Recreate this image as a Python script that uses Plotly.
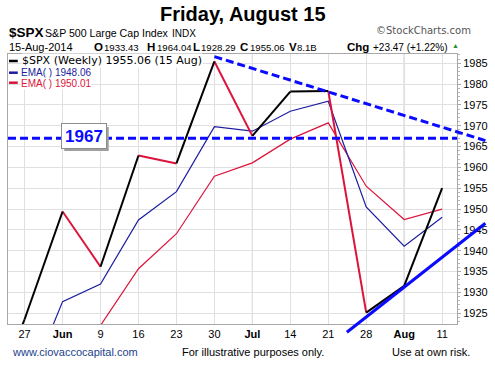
import plotly.graph_objects as go

# ---------------- data ----------------
week_idx = [-1, 0, 1, 2, 3, 4, 5, 6, 7, 8, 9, 10, 11]
tick_labels = ['27', 'Jun', '9', '16', '23', '30', 'Jul', '14', '21', '28', 'Aug', '11']
month_labels = ['Jun', 'Jul', 'Aug']
dark_grid_months = ['Jul', 'Aug']
price_close = [1900.53, 1923.57, 1949.44, 1936.16, 1962.87, 1960.96, 1985.44,
               1967.57, 1978.22, 1978.34, 1925.15, 1931.59, 1955.06]
ema_fast_idx = [0, 1, 2, 3, 4, 5, 6, 7, 8, 9, 10, 11]
ema_fast = [1905.5, 1927.8, 1932.0, 1947.4, 1954.2, 1969.8, 1968.7, 1973.5,
            1975.9, 1950.5, 1941.1, 1948.06]
ema_slow_idx = [1, 2, 3, 4, 5, 6, 7, 8, 9, 10, 11]
ema_slow = [1915.0, 1922.1, 1935.7, 1944.1, 1957.9, 1961.1, 1966.8, 1970.7,
            1955.5, 1947.5, 1950.01]
y_ticks = [1925, 1930, 1935, 1940, 1945, 1950, 1955, 1960, 1965, 1970, 1975, 1980, 1985]
level_1967 = 1967
down_trend = [(5.0, 1986.6), (12.14, 1966.45)]
up_trend = [(8.49, 1920.44), (12.14, 1946.6)]

# ---------------- geometry ----------------
W, H = 495, 366
ML, MR, MT, MB = 7, 29, 54, 42
XR = [-0.438, 11.392]
YR = [1922.43, 1987.23]
PW, PH = W - ML - MR, H - MT - MB


def PX(px):
    return (px - ML) / PW


def PY(py):
    return (H - MB - py) / PH


def dx(i):
    return (i - XR[0]) / (XR[1] - XR[0])


def dy(v):
    return (v - YR[0]) / (YR[1] - YR[0])


FONT = "Liberation Sans, Arial, sans-serif"
BLACK = "#000000"
RED = "#dc143c"
NAVY = "#1c1ca0"
BLUE = "#0a0aff"

fig = go.Figure()

# EMA lines
fig.add_trace(go.Scatter(x=ema_slow_idx, y=ema_slow, mode="lines",
                         line=dict(color=RED, width=1.2), hoverinfo="skip"))
fig.add_trace(go.Scatter(x=ema_fast_idx, y=ema_fast, mode="lines",
                         line=dict(color=NAVY, width=1.2), hoverinfo="skip"))

# price line: black up, red down
xb, yb, xr, yr = [], [], [], []
for k in range(len(price_close) - 1):
    seg_x = [week_idx[k], week_idx[k + 1], None]
    seg_y = [price_close[k], price_close[k + 1], None]
    if price_close[k + 1] >= price_close[k]:
        xb += seg_x
        yb += seg_y
    else:
        xr += seg_x
        yr += seg_y
fig.add_trace(go.Scatter(x=xr, y=yr, mode="lines", line=dict(color=RED, width=2),
                         hoverinfo="skip"))
fig.add_trace(go.Scatter(x=xb, y=yb, mode="lines", line=dict(color=BLACK, width=2),
                         hoverinfo="skip"))

shapes = []
# darker month gridlines
for lab in dark_grid_months:
    i = tick_labels.index(lab)
    shapes.append(dict(type="line", xref="x", yref="paper", x0=i, x1=i, y0=0, y1=1,
                       line=dict(color="#bdbdbd", width=1), layer="below"))
# 1967 horizontal dashed line
shapes.append(dict(type="line", xref="paper", yref="y", x0=0, x1=1,
                   y0=level_1967, y1=level_1967,
                   line=dict(color=BLUE, width=3, dash="8px,4px")))
# down trend dashed
shapes.append(dict(type="line", xref="paper", yref="paper",
                   x0=dx(down_trend[0][0]), y0=dy(down_trend[0][1]),
                   x1=dx(down_trend[1][0]), y1=dy(down_trend[1][1]),
                   line=dict(color=BLUE, width=3, dash="8px,4px")))
# up trend solid
shapes.append(dict(type="line", xref="paper", yref="paper",
                   x0=dx(up_trend[0][0]), y0=dy(up_trend[0][1]),
                   x1=dx(up_trend[1][0]), y1=dy(up_trend[1][1]),
                   line=dict(color=BLUE, width=3)))
# legend dashes
for py, col in [(61, BLACK), (72.7, NAVY), (82.7, RED)]:
    shapes.append(dict(type="line", xref="paper", yref="paper",
                       x0=PX(8), x1=PX(17), y0=PY(py), y1=PY(py),
                       line=dict(color=col, width=2.5)))
# shadow of the 1967 box
shapes.append(dict(type="rect", xref="paper", yref="paper",
                   x0=PX(64.5), x1=PX(110), y0=PY(151), y1=PY(127),
                   fillcolor="#a0a0a0", line=dict(width=0)))

ann = []


def txt(px, py, text, size=11, color="#000", family=FONT, xanchor="left", **kw):
    d = dict(xref="paper", yref="paper", x=PX(px), y=PY(py), text=text,
             showarrow=False, xanchor=xanchor, yanchor="middle",
             font=dict(size=size, color=color, family=family))
    d.update(kw)
    ann.append(d)


# title
txt(247, 14, "<b>Friday, August 15</b>", size=20, xanchor="center")
# header line 1
txt(6, 32.5, "<b>$SPX</b>", size=13.5)
txt(43, 33, "S&P 500 Large Cap Index", size=10.6)
txt(173, 33, "INDX", size=10)
txt(381, 31, "\u00a9StockCharts.com", size=10, color="#555", family="DejaVu Sans")
# header line 2
txt(6, 47, "15-Aug-2014", size=11)
pairs = [(93, 103.5, "O", "1933.43"), (147.5, 157, "H", "1964.04"),
         (194, 202, "L", "1928.29"), (242, 252, "C", "1955.06"),
         (292, 300, "V", "8.1B"), (352, 378, "Chg", "+23.47 (+1.22%)")]
for lx, nx, lab, val in pairs:
    txt(lx, 46.5, "<b>" + lab + "</b>", size=11.5)
    txt(nx, 47, val, size=10 if lab == "Chg" else 9.6)
txt(459, 46, "\u25b2", size=7, color="#2e8b2e")
# legend text
txt(20, 61, "$SPX (Weekly) 1955.06 (15 Aug)", size=11, family="DejaVu Sans",
    bgcolor="white", borderpad=0)
txt(19, 72.7, "EMA( ) 1948.06", size=10, color=NAVY, bgcolor="white", borderpad=0)
txt(19, 83, "EMA( ) 1950.01", size=10, color=RED, bgcolor="white", borderpad=0)
# 1967 box
ann.append(dict(xref="paper", yref="paper", x=PX(84.4), y=PY(136),
                text="<b>1967</b>", showarrow=False, xanchor="center",
                yanchor="middle", width=40, height=20,
                font=dict(size=17, family=FONT, color=BLUE),
                bgcolor="white", bordercolor="#8c8c8c", borderwidth=1, borderpad=2))
# footer
txt(9, 351.5, "www.ciovaccocapital.com", size=11, color="#1c3f8c")
txt(183, 351.5, "For illustrative purposes only.", size=11)
txt(398, 351.5, "Use at own risk.", size=11)

ticktext = ["<b>" + t + "</b>" if t in month_labels else t for t in tick_labels]

fig.update_layout(
    width=W, height=H, margin=dict(l=ML, r=MR, t=MT, b=MB),
    paper_bgcolor="white", plot_bgcolor="white", showlegend=False,
    shapes=shapes, annotations=ann,
    xaxis=dict(range=XR, tickvals=list(range(len(tick_labels))), ticktext=ticktext,
               showgrid=True, gridcolor="#e0e0e0", gridwidth=1, zeroline=False,
               showline=True, linecolor="#a8a8a8", linewidth=1, mirror=True,
               ticks="", tickfont=dict(size=11, family=FONT, color="#000")),
    yaxis=dict(range=YR, side="right", tickvals=y_ticks,
               showgrid=True, gridcolor="#e0e0e0", gridwidth=1, zeroline=False,
               showline=True, linecolor="#a8a8a8", linewidth=1, mirror=True,
               ticks="outside", ticklen=3, tickcolor="#a8a8a8",
               minor=dict(dtick=1, ticks="outside", ticklen=2, tickcolor="#b8b8b8",
                          showgrid=False),
               tickfont=dict(size=11, family=FONT, color="#000")),
)

fig.write_html("out.html", config={"displayModeBar": False},
               post_script="document.body.style.margin='0px';"
                           "document.body.style.padding='0px';")
